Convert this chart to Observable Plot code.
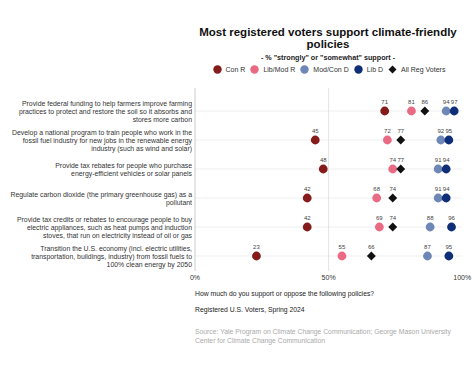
<!DOCTYPE html>
<html>
<head>
<meta charset="utf-8">
<script src="https://cdn.jsdelivr.net/npm/d3@7"></script>
<script src="https://cdn.jsdelivr.net/npm/@observablehq/plot@0.6"></script>
<style>
  html, body { margin: 0; padding: 0; background: #fff; }
  body { font-family: "Liberation Sans", Arial, Helvetica, sans-serif; }
  #wrap { position: relative; width: 474px; height: 370px; overflow: hidden; }
  .abs { position: absolute; }
  #title { left: 194px; width: 268px; top: 26px; text-align: center; font-weight: bold; font-size: 11.5px; line-height: 12px; color: #111; }
  #subtitle { left: 194px; width: 268px; top: 53px; text-align: center; font-weight: bold; font-size: 7.2px; color: #222; }
  #legend { left: 194px; width: 270px; top: 65px; display: flex; justify-content: center; align-items: center; font-size: 7px; color: #333; }
  #legend .item { display: flex; align-items: center; margin: 0 2.5px; }
  #legend svg { margin-right: 4px; }
  #chart { left: 0; top: 85px; }
  .cap { left: 195px; font-size: 6.8px; color: #222; }
  .src { left: 195px; font-size: 6.8px; color: #aaa; line-height: 8.7px; width: 270px; }
</style>
</head>
<body>
<div id="wrap">
  <div id="title" class="abs">Most registered voters support climate-friendly<br>policies</div>
  <div id="subtitle" class="abs">- % "strongly" or "somewhat" support -</div>
  <div id="legend" class="abs"></div>
  <div id="chart" class="abs"></div>
  <div class="abs cap" style="top:290px">How much do you support or oppose the following policies?</div>
  <div class="abs cap" style="top:306px">Registered U.S. Voters, Spring 2024</div>
  <div class="abs src" style="top:328px">Source: Yale Program on Climate Change Communication; George Mason University Center for Climate Change Communication</div>
</div>
<script>
const policies = [
  "Provide federal funding to help farmers improve farming\npractices to protect and restore the soil so it absorbs and\nstores more carbon",
  "Develop a national program to train people who work in the\nfossil fuel industry for new jobs in the renewable energy\nindustry (such as wind and solar)",
  "Provide tax rebates for people who purchase\nenergy-efficient vehicles or solar panels",
  "Regulate carbon dioxide (the primary greenhouse gas) as a\npollutant",
  "Provide tax credits or rebates to encourage people to buy\nelectric appliances, such as heat pumps and induction\nstoves, that run on electricity instead of oil or gas",
  "Transition the U.S. economy (incl. electric utilities,\ntransportation, buildings, industry) from fossil fuels to\n100% clean energy by 2050"
];
const groups = ["Con R", "Lib/Mod R", "Mod/Con D", "Lib D", "All Reg Voters"];
const conR     = [71, 45, 48, 42, 42, 23];
const libModR  = [81, 72, 74, 68, 69, 55];
const modConD  = [94, 92, 91, 91, 88, 87];
const libD     = [97, 95, 94, 94, 96, 95];
const allVoters= [86, 77, 77, 74, 74, 66];
const xTicks = [0, 50, 100];
const colors = {"Con R": "#851b1b", "Lib/Mod R": "#ea6a83", "Mod/Con D": "#6f87b6", "Lib D": "#0e2f78", "All Reg Voters": "#111111"};

const series = [
  ["Con R", conR], ["Lib/Mod R", libModR], ["Mod/Con D", modConD], ["Lib D", libD], ["All Reg Voters", allVoters]
];
const rows = [];
for (const [g, vals] of series) vals.forEach((v, i) => rows.push({group: g, policy: policies[i], value: v}));
const circles = rows.filter(d => d.group !== "All Reg Voters");
const diamonds = rows.filter(d => d.group === "All Reg Voters");

// legend
const leg = document.getElementById("legend");
for (const g of groups) {
  const item = document.createElement("div");
  item.className = "item";
  const shape = g === "All Reg Voters"
    ? `<svg width="9" height="9"><path d="M4.5,0.5L8.5,4.5L4.5,8.5L0.5,4.5Z" fill="${colors[g]}"/></svg>`
    : `<svg width="9" height="9"><circle cx="4.5" cy="4.5" r="4.2" fill="${colors[g]}"/></svg>`;
  item.innerHTML = shape + `<span>${g}</span>`;
  leg.appendChild(item);
}

const font = "Liberation Sans, Arial, Helvetica, sans-serif";
const chart = Plot.plot({
  width: 474,
  height: 200,
  marginLeft: 194.5,
  marginRight: 12.3,
  marginTop: 3,
  marginBottom: 14,
  style: {fontFamily: font, fontSize: "7px", color: "#333", background: "transparent"},
  x: {domain: [0, 100], axis: null},
  y: {type: "band", domain: policies, padding: 0, insetTop: 6, axis: null},
  color: {domain: groups, range: groups.map(g => colors[g])},
  marks: [
    Plot.ruleY(policies, {y: d => d, x1: 0, x2: 100, stroke: "#ebebeb", strokeWidth: 0.8}),
    Plot.ruleX([50], {stroke: "#dcdcdc", strokeWidth: 0.8}),
    Plot.ruleX([0], {stroke: "#bdbdbd", strokeWidth: 0.8}),
    Plot.axisX({ticks: xTicks, tickFormat: d => d + "%", tickSize: 0, tickPadding: 4, fontSize: 7, label: null, fill: "#333"}),
    Plot.text(policies, {y: d => d, frameAnchor: "left", textAnchor: "end", dx: -3, text: d => d, fontSize: 6.9, lineHeight: 1.17, fill: "#333"}),
    Plot.dot(circles, {x: "value", y: "policy", fill: "group", r: 4.4, stroke: "none"}),
    Plot.dot(diamonds, {x: "value", y: "policy", fill: "group", symbol: "diamond2", r: 4, stroke: "none"}),
    Plot.text(rows, {x: "value", y: "policy", text: d => String(d.value), dy: -9, fontSize: 6, fill: "#444"})
  ]
});
chart.style.overflow = "visible";
document.getElementById("chart").appendChild(chart);
</script>
</body>
</html>
